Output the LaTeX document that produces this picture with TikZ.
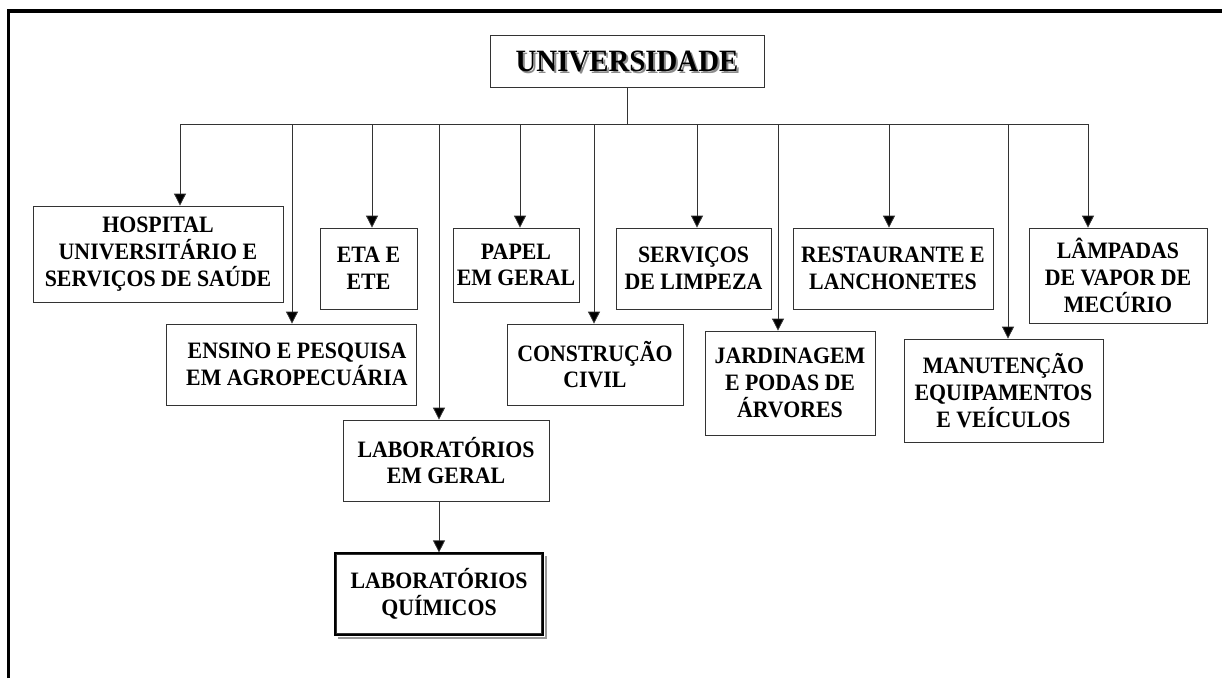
\documentclass[tikz,border=0pt]{standalone}
\usepackage{fontspec}
\setmainfont{Liberation Serif}[FakeStretch=0.93]
\usetikzlibrary{arrows.meta,positioning}

\begin{document}
\begin{tikzpicture}[x=1pt,y=-1pt,
    box/.style={draw=black!80, line width=0.8pt, rectangle, inner sep=0pt, align=center,
      font=\fontsize{23.5}{26.7}\selectfont\bfseries},
    arr/.style={draw=black!80, line width=0.8pt, -{Triangle[width=12pt,length=12pt,fill=black]}}]
    \useasboundingbox (0,0) rectangle (1222,678);

    % moldura (cortada)
    \draw[line width=3.5pt, miter limit=2] (8.5,678) -- (8.5,11) -- (1222,11);

    % topo
    \node[font=\fontsize{31}{34}\selectfont\bfseries, text=black!45] at (629,63) {UNIVERSIDADE};
    \node[box, minimum width=274pt, minimum height=52pt, font=\fontsize{31}{34}\selectfont\bfseries]
        (univ) at (627,61) {UNIVERSIDADE};

    % primeira linha
    \node[box, minimum width=250pt, minimum height=96pt] (hosp) at (158,254)
        {HOSPITAL\\UNIVERSITÁRIO E\\SERVIÇOS DE SAÚDE};
    \node[box, minimum width=97pt, minimum height=81pt] (eta) at (368.5,268.5) {ETA E\\ETE};
    \node[box, minimum width=126pt, minimum height=74pt] (papel) at (516,265) {PAPEL\\EM GERAL};
    \node[box, minimum width=155pt, minimum height=81pt] (limpeza) at (693.5,268.5) {SERVIÇOS\\DE LIMPEZA};
    \node[box, minimum width=200pt, minimum height=81pt] (rest) at (893,268.5) {RESTAURANTE E\\LANCHONETES};
    \node[box, minimum width=178pt, minimum height=95pt] (lamp) at (1118,275.5)
        {LÂMPADAS\\DE VAPOR DE\\MECÚRIO};

    % segunda linha
    \node[box, minimum width=250pt, minimum height=81pt] (ensino) at (291,364.5)
        {\hspace*{12pt}ENSINO E PESQUISA\\\hspace*{12pt}EM AGROPECUÁRIA};
    \node[box, minimum width=176pt, minimum height=81pt] (constr) at (595,364.5) {CONSTRUÇÃO\\CIVIL};
    \node[box, minimum width=170pt, minimum height=104pt] (jard) at (790,383)
        {JARDINAGEM\\E PODAS DE\\ÁRVORES};
    \node[box, minimum width=199pt, minimum height=103pt] (manut) at (1003.5,390.5)
        {MANUTENÇÃO\\EQUIPAMENTOS\\E VEÍCULOS};

    % laboratorios
    \node[box, minimum width=206pt, minimum height=81pt] (labger) at (446,460.5) {LABORATÓRIOS\\EM GERAL};
    \node[box, draw=black, line width=1.2pt, minimum width=208pt, minimum height=82pt]
        (labqui) at (439,594) {LABORATÓRIOS\\QUÍMICOS};
    \draw[black!80, line width=0.6pt] ([shift={(2.2,2.2)}]labqui.north west)
        rectangle ([shift={(-2.2,-2.2)}]labqui.south east);
    \draw[black!40, line width=1.6pt] ([shift={(2.5,4)}]labqui.north east)
        -- ([shift={(2.5,2.5)}]labqui.south east) -- ([shift={(4,2.5)}]labqui.south west);

    % ligacoes
    \foreach \tx/\dst in {180/hosp, 292/ensino, 372/eta, 439/labger, 520/papel, 594/constr,
        697/limpeza, 778/jard, 889/rest, 1008/manut, 1088/lamp} {
      \coordinate (tap-\dst) at (\tx,124);
      \draw[arr] (tap-\dst) -- (tap-\dst |- \dst.north);
    }
    \draw[draw=black!80, line width=0.8pt] (univ.south) -- (univ.south |- tap-hosp);
    \draw[draw=black!80, line width=0.8pt] (tap-hosp) -- (tap-lamp);
    \draw[arr] (labger.south -| tap-labger) -- (labqui.north -| tap-labger);
\end{tikzpicture}
\end{document}
